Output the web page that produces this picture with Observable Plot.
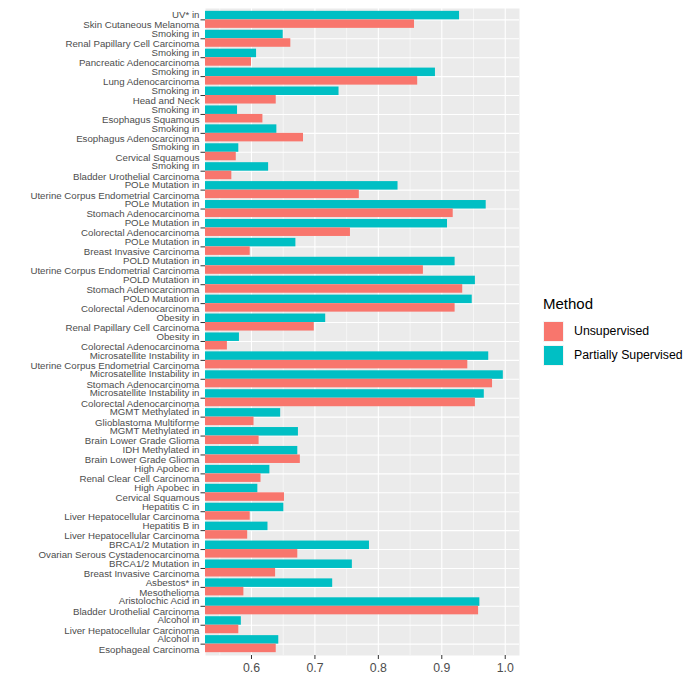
<!DOCTYPE html>
<html>
<head>
<meta charset="utf-8">
<script src="https://cdn.jsdelivr.net/npm/d3@7"></script>
<script src="https://cdn.jsdelivr.net/npm/@observablehq/plot@0.6"></script>
<style>
  body { margin: 0; background: #ffffff; font-family: "Liberation Sans", Arial, Helvetica, sans-serif; }
  #wrap { position: relative; width: 700px; height: 700px; overflow: hidden; }
  #legend { position: absolute; left: 543px; top: 295px; color: #000; }
  #legend .title { font-size: 15px; line-height: 17px; height: 17px; margin-bottom: 7px; white-space: nowrap; }
  #legend .row { display: flex; align-items: center; height: 24px; }
  #legend .sw { width: 21px; height: 21px; box-sizing: border-box; border: 1px solid #f4f4f4; }
  #legend .lab { font-size: 12.3px; margin-left: 10px; white-space: nowrap; }
</style>
</head>
<body>
<div id="wrap"></div>
<script>
// ---- data ----
const causes = [
  "UV* in", "Smoking in", "Smoking in", "Smoking in", "Smoking in", "Smoking in",
  "Smoking in", "Smoking in", "Smoking in", "POLe Mutation in", "POLe Mutation in",
  "POLe Mutation in", "POLe Mutation in", "POLD Mutation in", "POLD Mutation in",
  "POLD Mutation in", "Obesity in", "Obesity in", "Microsatellite Instability in",
  "Microsatellite Instability in", "Microsatellite Instability in", "MGMT Methylated in",
  "MGMT Methylated in", "IDH Methylated in", "High Apobec in", "High Apobec in",
  "Hepatitis C in", "Hepatitis B in", "BRCA1/2 Mutation in", "BRCA1/2 Mutation in",
  "Asbestos* in", "Aristolochic Acid in", "Alcohol in", "Alcohol in"
];
const cancers = [
  "Skin Cutaneous Melanoma", "Renal Papillary Cell Carcinoma", "Pancreatic Adenocarcinoma",
  "Lung Adenocarcinoma", "Head and Neck", "Esophagus Squamous", "Esophagus Adenocarcinoma",
  "Cervical Squamous", "Bladder Urothelial Carcinoma", "Uterine Corpus Endometrial Carcinoma",
  "Stomach Adenocarcinoma", "Colorectal Adenocarcinoma", "Breast Invasive Carcinoma",
  "Uterine Corpus Endometrial Carcinoma", "Stomach Adenocarcinoma", "Colorectal Adenocarcinoma",
  "Renal Papillary Cell Carcinoma", "Colorectal Adenocarcinoma", "Uterine Corpus Endometrial Carcinoma",
  "Stomach Adenocarcinoma", "Colorectal Adenocarcinoma", "Glioblastoma Multiforme",
  "Brain Lower Grade Glioma", "Brain Lower Grade Glioma", "Renal Clear Cell Carcinoma",
  "Cervical Squamous", "Liver Hepatocellular Carcinoma", "Liver Hepatocellular Carcinoma",
  "Ovarian Serous Cystadenocarcinoma", "Breast Invasive Carcinoma", "Mesothelioma",
  "Bladder Urothelial Carcinoma", "Liver Hepatocellular Carcinoma", "Esophageal Carcinoma"
];
const unsupervised = [
  0.857, 0.662, 0.600, 0.862, 0.639, 0.618, 0.682, 0.576, 0.569,
  0.770, 0.918, 0.756, 0.598, 0.871, 0.933, 0.921, 0.699, 0.562,
  0.941, 0.980, 0.953, 0.604, 0.612, 0.677, 0.615, 0.652, 0.598,
  0.594, 0.673, 0.638, 0.588, 0.958, 0.580, 0.639
];
const partiallySupervised = [
  0.928, 0.650, 0.608, 0.890, 0.738, 0.578, 0.640, 0.580, 0.627,
  0.831, 0.970, 0.909, 0.670, 0.921, 0.953, 0.948, 0.717, 0.581,
  0.974, 0.997, 0.967, 0.646, 0.674, 0.673, 0.629, 0.610, 0.651,
  0.626, 0.786, 0.759, 0.728, 0.960, 0.584, 0.643
];
const methods = ["Unsupervised", "Partially Supervised"];
const methodColors = ["#F8766D", "#00BFC4"];
const xTicks = [0.6, 0.7, 0.8, 0.9, 1.0];
const xMinorTicks = [0.55, 0.65, 0.75, 0.85, 0.95];

// ---- build table ----
const n = causes.length;
const idx = d3.range(n);
const labels = idx.map(i => causes[i] + "\n" + cancers[i]);
const half = 0.45; // dodge width per bar (ggplot: 0.9 total)
const rows = idx.flatMap(i => [
  {i, method: methods[1], value: partiallySupervised[i], y1: i - half, y2: i},
  {i, method: methods[0], value: unsupervised[i], y1: i, y2: i + half}
]);

const font = '"Liberation Sans", Arial, Helvetica, sans-serif';

const chart = Plot.plot({
  width: 700,
  height: 700,
  marginLeft: 205,
  marginRight: 181,
  marginTop: 8,
  marginBottom: 45,
  style: {fontFamily: font, background: "#ffffff", overflow: "visible"},
  x: {domain: [0.5275, 1.0225], label: null},
  y: {domain: [-0.6, n - 0.4], reverse: true, label: null},
  color: {domain: methods, range: methodColors},
  marks: [
    Plot.frame({fill: "#EBEBEB", stroke: "none"}),
    Plot.gridX(xMinorTicks, {stroke: "#ffffff", strokeOpacity: 1, strokeWidth: 0.55}),
    Plot.gridX(xTicks, {stroke: "#ffffff", strokeOpacity: 1, strokeWidth: 1.1}),
    Plot.gridY(idx, {stroke: "#ffffff", strokeOpacity: 1, strokeWidth: 1.1}),
    Plot.rectX(rows, {x: "value", y1: "y1", y2: "y2", fill: "method", clip: true}),
    Plot.axisY(idx, {
      tickFormat: i => labels[i],
      tickSize: 4.5, tickPadding: 1.5,
      fontSize: 9.7, lineHeight: 1.06,
      fill: "#4D4D4D", stroke: "#333333", label: null
    }),
    Plot.axisX(xTicks, {
      tickFormat: d3.format(".1f"),
      tickSize: 4, tickPadding: 3.3,
      fontSize: 12.3,
      fill: "#4D4D4D", stroke: "#333333", label: null
    })
  ]
});

const wrap = document.getElementById("wrap");
wrap.appendChild(chart);

// ---- legend (colors taken from the plot's color scale) ----
const colorScale = chart.scale("color");
const legend = document.createElement("div");
legend.id = "legend";
const title = document.createElement("div");
title.className = "title";
title.textContent = "Method";
legend.appendChild(title);
colorScale.domain.forEach((m, k) => {
  const row = document.createElement("div");
  row.className = "row";
  const sw = document.createElement("div");
  sw.className = "sw";
  sw.style.background = colorScale.range[k];
  const lab = document.createElement("div");
  lab.className = "lab";
  lab.textContent = m;
  row.appendChild(sw);
  row.appendChild(lab);
  legend.appendChild(row);
});
wrap.appendChild(legend);
</script>
</body>
</html>
